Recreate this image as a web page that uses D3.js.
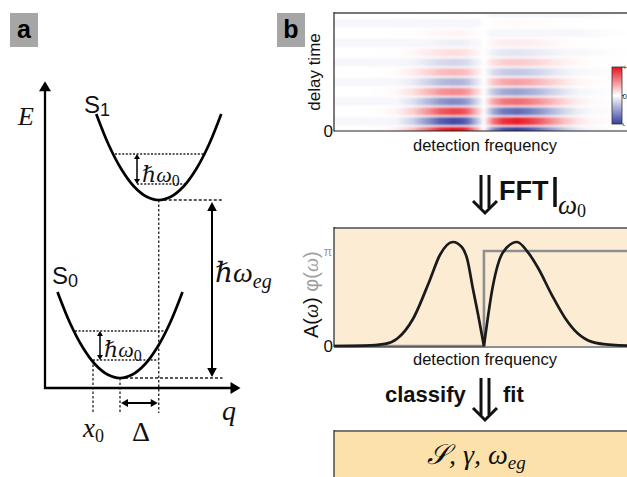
<!DOCTYPE html>
<html>
<head>
<meta charset="utf-8">
<script src="https://cdn.jsdelivr.net/npm/d3@7"></script>
<style>
  html, body { margin: 0; padding: 0; background: #fff; }
  svg { display: block; font-family: "Liberation Sans", Arial, sans-serif; }
  .math { font-family: "Liberation Serif", "DejaVu Serif", serif; font-style: italic; }
  .rm { font-style: normal; }
</style>
</head>
<body>
<svg id="fig" width="627" height="477"></svg>
<script>
// ---- panel a: potential energy curves, points are [q, E] (arbitrary units)
var excitedCurve = [[2.05,10.96],[2.55,9.72],[3.05,8.76],[3.55,8.07],[4.05,7.66],[4.55,7.52],[5.05,7.66],[5.55,8.07],[6.05,8.76],[6.55,9.72],[7.05,10.96]];
var groundCurve = [[0.5,3.84],[1.0,2.6],[1.5,1.64],[2.0,0.95],[2.5,0.54],[3.0,0.4],[3.5,0.54],[4.0,0.95],[4.5,1.64],[5.0,2.6],[5.5,3.84]];
// vibrational levels: [qStart, qEnd, E]
var excitedLevels = [[2.8,6.4,9.36],[3.68,5.6,8.16]];
var groundLevels = [[1.2,4.85,2.28],[1.92,4.54,1.12]];
var excitedMin = [4.55, 7.52];
var groundMin = [3.0, 0.4];
var x0Pos = 1.92;
var egArrowQ = 6.68;

// ---- panel b: detection frequency axis (normalised) and FFT amplitude / phase at w0
var detFreq   = [0, 0.101, 0.167, 0.206, 0.258, 0.314, 0.346, 0.389, 0.418, 0.435, 0.454, 0.471, 0.49, 0.52, 0.552, 0.598, 0.634, 0.667, 0.712, 0.755, 0.797, 0.843, 0.908, 1.0];
var amplitude = [0, 0.003, 0.02, 0.07, 0.26, 0.64, 0.875, 1.0, 0.95, 0.84, 0.55, 0.3, 0, 0.59, 0.9, 1.0, 0.9, 0.75, 0.49, 0.27, 0.12, 0.04, 0.01, 0];
var phaseFreq = [0, 0.49, 0.49, 1.0];
var phaseVal  = [0, 0, Math.PI, Math.PI];
var nodeFreq = 0.49;
// faint negative floor seen on the blue rows of the 2D map
var heatFloor = [0.045, 0.045, 0.045, 0.045, 0.045, 0.045, 0.045, 0.045, 0.045, 0.045, 0.045, 0.045, 0.045, 0.045, 0.045, 0.045, 0.045, 0.045, 0.045, 0.045, 0.04, 0.03, 0.01, 0];
// oscillation amplitude of each delay-time row, bottom (t = 0) to top
var delayAmp = [1.0, 0.95, 0.78, 0.62, 0.5, 0.4, 0.3, 0.22, 0.14, 0.08, 0.04, 0.02, 0.01];
var cbarTicks = ["+", "0", "-"];

var svg = d3.select("#fig");
var defs = svg.append("defs");

function arrow(g, x1, y1, x2, y2, len, hw, width, both) {
  var dx = x2 - x1, dy = y2 - y1, L = Math.sqrt(dx*dx + dy*dy);
  var ux = dx / L, uy = dy / L, px = -uy, py = ux;
  var sx = both ? x1 + ux*(len-1) : x1, sy = both ? y1 + uy*(len-1) : y1;
  g.append("line").attr("x1", sx).attr("y1", sy)
    .attr("x2", x2 - ux*(len-1)).attr("y2", y2 - uy*(len-1))
    .attr("stroke", "#000").attr("stroke-width", width);
  var head = function(tx, ty, vx, vy) {
    var bx = tx - vx*len, by = ty - vy*len;
    g.append("polygon")
      .attr("points", [[tx,ty],[bx + px*hw, by + py*hw],[bx - px*hw, by - py*hw]].map(function(p){ return p.join(","); }).join(" "))
      .attr("fill", "#000");
  };
  head(x2, y2, ux, uy);
  if (both) head(x1, y1, -ux, -uy);
}

function panelLabel(x, y, txt) {
  svg.append("rect").attr("x", x).attr("y", y).attr("width", 28).attr("height", 34).attr("fill", "#a6a6a6");
  svg.append("text").attr("x", x + 14).attr("y", y + 25).attr("text-anchor", "middle")
    .attr("font-size", 25).attr("font-weight", "bold").attr("fill", "#000").text(txt);
}

// ================= panel a =================
panelLabel(10, 13, "a");
var qScale = d3.scaleLinear().domain([0, 8]).range([45, 245]);
var eScale = d3.scaleLinear().domain([0, 12]).range([388, 88]);
var ga = svg.append("g");

var potLine = d3.line().x(function(d){ return qScale(d[0]); }).y(function(d){ return eScale(d[1]); }).curve(d3.curveCatmullRom);

// dotted level lines
function levels(arr) {
  ga.selectAll(null).data(arr).enter().append("line")
    .attr("x1", function(d){ return qScale(d[0]); }).attr("x2", function(d){ return qScale(d[1]); })
    .attr("y1", function(d){ return eScale(d[2]); }).attr("y2", function(d){ return eScale(d[2]); })
    .attr("stroke", "#222").attr("stroke-width", 1.3).attr("stroke-dasharray", "2,1.6");
}
levels(excitedLevels);
levels(groundLevels);

function dashed(q1, e1, q2, e2, dash) {
  ga.append("line").attr("x1", qScale(q1)).attr("y1", eScale(e1)).attr("x2", qScale(q2)).attr("y2", eScale(e2))
    .attr("stroke", "#222").attr("stroke-width", 1.3).attr("stroke-dasharray", dash);
}
// minima guide lines
dashed(excitedMin[0], excitedMin[1], 7.1, excitedMin[1], "3,2");
dashed(groundMin[0], groundMin[1], 7.1, groundMin[1], "3,2");
dashed(excitedMin[0], excitedMin[1], excitedMin[0], -1.0, "2.5,2");
dashed(groundMin[0], groundMin[1], groundMin[0], -1.0, "2.5,2");
dashed(x0Pos, groundLevels[1][2], x0Pos, -1.0, "2.5,2");

ga.append("path").attr("d", potLine(excitedCurve)).attr("fill", "none").attr("stroke", "#000").attr("stroke-width", 2.7);
ga.append("path").attr("d", potLine(groundCurve)).attr("fill", "none").attr("stroke", "#000").attr("stroke-width", 2.7);

// axes
arrow(ga, qScale(0), eScale(0) + 1, qScale(0), eScale(12.27), 10, 6, 2.3, false);
arrow(ga, qScale(0) - 1, eScale(0), qScale(7.82), eScale(0), 10, 6, 2.3, false);

// energy arrows
arrow(ga, qScale(excitedLevels[1][0]), eScale(excitedLevels[0][2]), qScale(excitedLevels[1][0]), eScale(excitedLevels[1][2]), 5, 3, 1.5, true);
arrow(ga, qScale(2.2), eScale(groundLevels[0][2]), qScale(2.2), eScale(groundLevels[1][2]), 5, 3, 1.5, true);
arrow(ga, qScale(egArrowQ), eScale(excitedMin[1]) + 2, qScale(egArrowQ), eScale(groundMin[1]) - 1, 9, 4.8, 2, true);
arrow(ga, qScale(groundMin[0]) + 1, eScale(-0.6), qScale(excitedMin[0]) - 1, eScale(-0.6), 7, 4, 2, true);

// labels
function mathLabel(x, y, size, main, sub, subSize, subDy, subItalic) {
  var t = ga.append("text").attr("class", "math").attr("x", x).attr("y", y).attr("font-size", size).attr("fill", "#111");
  t.append("tspan").text(main);
  if (sub) t.append("tspan").attr("class", subItalic ? null : "rm").attr("font-size", subSize).attr("dy", subDy).text(sub);
  return t;
}
mathLabel(18, 125, 26, "E");
mathLabel(222, 420, 28, "q");
mathLabel(142, 182, 22, "\u210Fω", "0", 16, 4, false);
mathLabel(104, 357, 22, "\u210Fω", "0", 16, 4, false);
mathLabel(215, 282, 28, "\u210Fω", "eg", 20, 6, true);
mathLabel(83, 437, 27, "x", "0", 18, 5, false);
ga.append("text").attr("x", 141).attr("y", 441).attr("text-anchor", "middle")
  .attr("font-family", "'Liberation Serif', serif").attr("font-size", 28).attr("fill", "#111").text("Δ");

function stateLabel(x, y, sub) {
  var t = ga.append("text").attr("x", x).attr("y", y).attr("font-size", 24).attr("fill", "#111");
  t.append("tspan").text("S");
  t.append("tspan").attr("font-size", 18).attr("dy", 3).text(sub);
}
stateLabel(84, 113, "1");
stateLabel(52, 284, "0");

// ================= panel b =================
panelLabel(277, 13, "b");
var fScale = d3.scaleLinear().domain([0, 1]).range([334, 640]);

// --- 2D map (delay time vs detection frequency)
var dScale = d3.scaleLinear().domain([0, 12]).range([131, 13.4]);
var heatColor = d3.scaleLinear().domain([-1, 0, 1]).range(["#3441a0", "#ffffff", "#e8101b"]).clamp(true);

defs.append("clipPath").attr("id", "mapClip").append("rect")
  .attr("x", 334).attr("y", 13).attr("width", 300).attr("height", 118);
var blur = defs.append("filter").attr("id", "soft").attr("x", "-5%").attr("y", "-150%").attr("width", "110%").attr("height", "400%");
blur.append("feGaussianBlur").attr("stdDeviation", "0.8 1.1");

delayAmp.forEach(function(amp, k) {
  var leftSign = (k % 2 === 0) ? 1 : -1;
  var grad = defs.append("linearGradient").attr("id", "row" + k)
    .attr("gradientUnits", "userSpaceOnUse")
    .attr("x1", fScale(0)).attr("x2", fScale(1)).attr("y1", 0).attr("y2", 0);
  detFreq.forEach(function(f, i) {
    var sign = f < nodeFreq ? leftSign : -leftSign;
    var v = sign * amp * amplitude[i];
    if (sign < 0) v = Math.min(v, -heatFloor[i]);
    if (f === nodeFreq) v = 0;
    grad.append("stop").attr("offset", f).attr("stop-color", heatColor(v));
  });
});

var gmap = svg.append("g").attr("clip-path", "url(#mapClip)");
gmap.append("g").attr("filter", "url(#soft)")
  .selectAll("rect").data(delayAmp).enter().append("rect")
  .attr("x", fScale(0)).attr("width", fScale(1) - fScale(0))
  .attr("y", function(d, k){ return dScale(k) - 4; }).attr("height", 8)
  .attr("fill", function(d, k){ return "url(#row" + k + ")"; });

svg.append("line").attr("x1", 334).attr("x2", 627).attr("y1", 13).attr("y2", 13).attr("stroke", "#777").attr("stroke-width", 2);
svg.append("line").attr("x1", 334).attr("x2", 334).attr("y1", 12).attr("y2", 131.5).attr("stroke", "#222").attr("stroke-width", 1.2);
svg.append("line").attr("x1", 334).attr("x2", 627).attr("y1", 131).attr("y2", 131).attr("stroke", "#222").attr("stroke-width", 1.2);
svg.append("text").attr("x", 333).attr("y", 137).attr("text-anchor", "end").attr("font-size", 17).attr("fill", "#111").text("0");
svg.append("text").attr("transform", "translate(320,72) rotate(-90)").attr("text-anchor", "middle")
  .attr("font-size", 17).attr("fill", "#111").text("delay time");
svg.append("text").attr("x", 485).attr("y", 151).attr("text-anchor", "middle")
  .attr("font-size", 16.5).attr("fill", "#111").text("detection frequency");

// colour bar
var cbScale = d3.scaleLinear().domain([1, -1]).range([67, 124]);
var cbGrad = defs.append("linearGradient").attr("id", "cbar").attr("x1", 0).attr("x2", 0).attr("y1", 0).attr("y2", 1);
[1, 0.5, 0, -0.5, -1].forEach(function(v) {
  cbGrad.append("stop").attr("offset", (1 - v) / 2).attr("stop-color", heatColor(v));
});
svg.append("rect").attr("x", 612).attr("y", cbScale(1)).attr("width", 10).attr("height", cbScale(-1) - cbScale(1))
  .attr("fill", "url(#cbar)").attr("stroke", "#333").attr("stroke-width", 0.8);
svg.selectAll(".cbt").data([1, 0, -1]).enter().append("line")
  .attr("x1", 622).attr("x2", 624).attr("y1", function(d){ return cbScale(d); }).attr("y2", function(d){ return cbScale(d); })
  .attr("stroke", "#333").attr("stroke-width", 0.8);
svg.selectAll(".cbl").data([1, 0, -1]).enter().append("text")
  .attr("x", 622.5).attr("y", function(d){ return cbScale(d) + 3; })
  .attr("font-size", 8).attr("fill", "#222").text(function(d, i){ return cbarTicks[i]; });

// double arrow + FFT label
function doubleArrow(x, yTop, yTip) {
  var g = svg.append("g").attr("stroke", "#111").attr("fill", "none");
  g.append("line").attr("x1", x - 4).attr("x2", x - 4).attr("y1", yTop).attr("y2", yTip - 5).attr("stroke-width", 3);
  g.append("line").attr("x1", x + 4).attr("x2", x + 4).attr("y1", yTop).attr("y2", yTip - 5).attr("stroke-width", 3);
  g.append("polyline").attr("points", [[x - 12, yTip - 12], [x, yTip], [x + 12, yTip - 12]].join(" ")).attr("stroke-width", 3);
}
doubleArrow(485, 175, 213);
svg.append("text").attr("x", 499).attr("y", 200).attr("font-size", 27).attr("font-weight", "bold").attr("fill", "#111").text("FFT");
svg.append("line").attr("x1", 555).attr("x2", 555).attr("y1", 177).attr("y2", 207).attr("stroke", "#111").attr("stroke-width", 3.5);
var w0 = svg.append("text").attr("class", "math").attr("x", 558).attr("y", 214).attr("font-size", 27).attr("fill", "#111");
w0.append("tspan").text("ω");
w0.append("tspan").attr("class", "rm").attr("font-size", 18).attr("dy", 3).text("0");

// --- FFT amplitude / phase panel
var aScale = d3.scaleLinear().domain([0, 1]).range([346, 242]);
var pScale = d3.scaleLinear().domain([0, Math.PI]).range([346, 251]);
svg.append("rect").attr("x", 334).attr("y", 228).attr("width", 300).attr("height", 118).attr("fill", "#fdecd4");

var pts = detFreq.map(function(f, i){ return [f, amplitude[i]]; });
var nodeIdx = detFreq.indexOf(nodeFreq);
var ampLine = d3.line().x(function(d){ return fScale(d[0]); }).y(function(d){ return aScale(d[1]); }).curve(d3.curveMonotoneX);
var phLine = d3.line().x(function(d){ return fScale(d[0]); }).y(function(d){ return pScale(d[1]); });

svg.append("path").attr("d", phLine(phaseFreq.map(function(f, i){ return [f, phaseVal[i]]; })))
  .attr("fill", "none").attr("stroke", "#8f8f8f").attr("stroke-width", 2.6);
svg.append("path").attr("d", ampLine(pts.slice(0, nodeIdx + 1)) + ampLine(pts.slice(nodeIdx)))
  .attr("fill", "none").attr("stroke", "#1a1a1a").attr("stroke-width", 2.7);

svg.append("line").attr("x1", 334).attr("x2", 627).attr("y1", 228).attr("y2", 228).attr("stroke", "#777").attr("stroke-width", 2);
svg.append("line").attr("x1", 334).attr("x2", 334).attr("y1", 227).attr("y2", 347).attr("stroke", "#222").attr("stroke-width", 1.2);
svg.append("line").attr("x1", 334).attr("x2", 627).attr("y1", 347).attr("y2", 347).attr("stroke", "#222").attr("stroke-width", 1);
svg.append("text").attr("x", 333).attr("y", 352).attr("text-anchor", "end").attr("font-size", 17).attr("fill", "#111").text("0");
svg.append("text").attr("x", 332).attr("y", pScale(Math.PI) + 5).attr("text-anchor", "end").attr("font-size", 12).attr("fill", "#9a9a9a").text("π");
var yl = svg.append("text").attr("transform", "translate(318,338) rotate(-90)").attr("font-size", 20);
yl.append("tspan").attr("fill", "#111").text("A(");
yl.append("tspan").attr("class", "math").attr("fill", "#111").text("ω");
yl.append("tspan").attr("fill", "#111").text(") ");
yl.append("tspan").attr("fill", "#a0a0a0").text("φ(");
yl.append("tspan").attr("class", "math").attr("fill", "#a0a0a0").text("ω");
yl.append("tspan").attr("fill", "#a0a0a0").text(")");
svg.append("text").attr("x", 485).attr("y", 365).attr("text-anchor", "middle")
  .attr("font-size", 16.5).attr("fill", "#111").text("detection frequency");

// classify / fit
doubleArrow(485, 378, 420);
svg.append("text").attr("x", 385).attr("y", 402).attr("font-size", 22).attr("font-weight", "bold").attr("fill", "#111").text("classify");
svg.append("text").attr("x", 503).attr("y", 402).attr("font-size", 22).attr("font-weight", "bold").attr("fill", "#111").text("fit");

// result box
svg.append("rect").attr("x", 334).attr("y", 431).attr("width", 300).attr("height", 50).attr("fill", "#fde1ab");
svg.append("line").attr("x1", 334).attr("x2", 627).attr("y1", 431).attr("y2", 431).attr("stroke", "#777").attr("stroke-width", 2);
svg.append("line").attr("x1", 334).attr("x2", 334).attr("y1", 430).attr("y2", 477).attr("stroke", "#222").attr("stroke-width", 1.2);
var res = svg.append("text").attr("class", "math").attr("x", 427).attr("y", 464).attr("font-size", 28).attr("fill", "#111");
res.append("tspan").text("\uD835\uDCAE, γ, ω");
res.append("tspan").attr("font-size", 19).attr("dy", 5).text("eg");
</script>
</body>
</html>
